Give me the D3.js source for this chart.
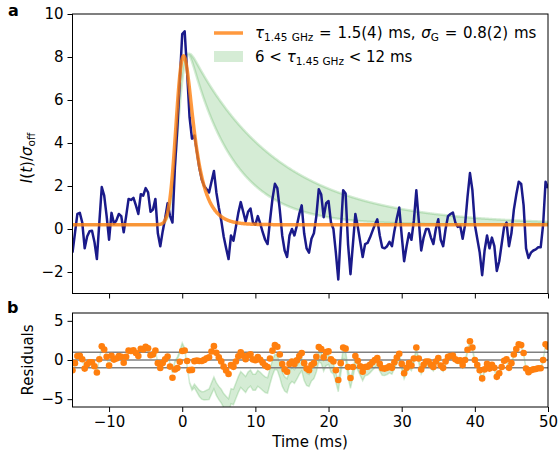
<!DOCTYPE html>
<html>
<head>
<meta charset="utf-8">
<script src="https://cdn.jsdelivr.net/npm/d3@7"></script>
<style>
  body { margin: 0; background: #fff; }
  text { font-family: "DejaVu Sans", sans-serif; }
</style>
</head>
<body>
<svg id="chart" width="560" height="454"></svg>
<script>
// sampled burst profile, one value every 1/3 ms from -15 ms
const startTime = -15;
const sampleStep = 1 / 3;
const intensity = [
  -1.1, -0.2, 0.7,   0.75, 0.3, -0.9,   -0.35, -0.1, -0.08,  -0.6, -1.4, 0.3,
  1.95, 1.55, 0.6,   -0.5, 0.75, 0.25,  0.4, 0.7, 0.6,       -0.15, 0.6, 1.4,
  1.35, 1.45, 1.1,   0.7, 1.62, 1.55,   1.9, 1.7, 0.8,       0.9, 1.4, -0.2,
  -0.8, -0.1, 0.5,   1.2, 0.6, 0.3,     2.86, 4.7, 6.9,      9.07, 9.2, 7.3,
  5.2, 4.2, 4.35,    3.6, 2.85, 2.3,    2.0, 1.85, 1.7,      2.2, 2.7, 1.7,
  1.0, 0.4, -0.35,   -0.9, -1.4, -0.3,  -0.55, 0.1, 0.75,    1.25, 0.8, 0.35,
  0.8, 0.95, 0.3,    0.2, 0.6, 0.25,    -0.15, -0.5, -0.7,   0.4, 1.4, 2.1,
  1.9, 0.9, -0.3,    -1.0, -1.3, -0.3,  0.0, -0.3, 0.15,     0.7, 1.1, -0.2,
  -0.9, -1.1, -0.45, -0.2, 0.6, 1.85,   1.6, 0.55, 1.2,      1.3, 0.3, 0.0,
  -1.1, -2.35, -0.2, 1.8, 1.65, -0.7,   -2.1, -0.7, 0.7,     0.1, -0.6, -1.3,
  -0.7, -0.65, -0.4, -0.1, 0.2, 0.45,   -0.3, -0.85, -0.9,   -0.8, -0.6, -0.8,
  -0.1, 0.5, 1.0,    -0.3, -1.5, -0.8,  -0.2, -0.5, 0.4,     1.8, 0.4, -1.0,
  -0.4, 0.0, 0.0,    -0.4, -0.7, 0.0,   0.45, -0.5, -0.8,    0.0, 0.6, 0.7,
  0.77, 0.3, 0.1,    0.15, -0.45, 0.2,  1.5, 2.6, 1.8,       0.2, -0.45, -1.1,
  -2.15, -1.0, -0.3, -0.9, -0.4, -0.8,  -1.95, -1.5, -0.7,   0.1, 0.3, -0.8,
  -0.2, 0.9, 1.6,    2.2, 2.1, 1.1,     -0.9, -1.35, -1.1,   -1.0, -0.95, -0.85,
  -0.85, 0.2, 2.2,   1.9
];

// fit parameters (from the legend)
const tauFit = 1.5;
const sigmaFit = 0.8;
const tauLow = 6;
const tauHigh = 12;
const pulseCentre = -0.6;
const fitPeak = 7.85;
const bandPeak = 7.95;
const baseline = 0.2;

const xTicks = [-10, 0, 10, 20, 30, 40, 50];
const yTicksTop = [-2, 0, 2, 4, 6, 8, 10];
const yTicksRes = [-5, 0, 5];
const residualGuides = [-1, 0, 1];

const orange = "#ff7f0e";
const green = "rgba(44,160,44,0.2)";
const navy = "#1a1a8a";

// Gaussian convolved with a one-sided exponential
function erfc(x) {
  const z = Math.abs(x);
  const t = 1 / (1 + 0.3275911 * z);
  const y = t * (0.254829592 + t * (-0.284496736 + t * (1.421413741 + t * (-1.453152027 + t * 1.061405429)))) * Math.exp(-z * z);
  return x >= 0 ? y : 2 - y;
}
function scattered(t, tau) {
  const u = t - pulseCentre;
  return Math.exp(sigmaFit * sigmaFit / (2 * tau * tau) - u / tau) *
    erfc((sigmaFit / tau - u / sigmaFit) / Math.SQRT2) / 2;
}
function makeModel(tau, height) {
  const peak = d3.max(d3.range(-3, 6, 0.01), t => scattered(t, tau));
  return t => baseline + height * scattered(t, tau) / peak;
}
const modelFit = makeModel(tauFit, fitPeak);
const modelLow = makeModel(tauLow, bandPeak);
const modelHigh = makeModel(tauHigh, bandPeak);

const samples = intensity.map((v, i) => {
  const t = startTime + i * sampleStep;
  return { t, v, res: v - modelFit(t), resLow: v - modelLow(t), resHigh: v - modelHigh(t) };
});
const fine = d3.range(-15, 50.0001, 0.05).map(t => ({ t, fit: modelFit(t), low: modelLow(t), high: modelHigh(t) }));

const svg = d3.select("#chart");
const x = d3.scaleLinear().domain([-15, 50]).range([72.5, 548]);
const yTop = d3.scaleLinear().domain([-3, 10]).range([293.5, 14]);
const yRes = d3.scaleLinear().domain([-6, 6]).range([407, 313]);

const defs = svg.append("defs");
defs.append("clipPath").attr("id", "clipTop").append("rect")
  .attr("x", 72.5).attr("y", 14).attr("width", 475.5).attr("height", 279.5);
defs.append("clipPath").attr("id", "clipRes").append("rect")
  .attr("x", 72.5).attr("y", 313).attr("width", 475.5).attr("height", 94);

// panel a
const panelA = svg.append("g").attr("clip-path", "url(#clipTop)");
panelA.append("path")
  .datum(fine)
  .attr("d", d3.area().x(d => x(d.t)).y0(d => yTop(d.low)).y1(d => yTop(d.high)))
  .attr("fill", green)
  .attr("stroke", green)
  .attr("stroke-width", 2.5);
panelA.append("path")
  .datum(samples)
  .attr("d", d3.line().x(d => x(d.t)).y(d => yTop(d.v)))
  .attr("fill", "none")
  .attr("stroke", navy)
  .attr("stroke-width", 2.5)
  .attr("stroke-linejoin", "round");
panelA.append("path")
  .datum(fine)
  .attr("d", d3.line().x(d => x(d.t)).y(d => yTop(d.fit)))
  .attr("fill", "none")
  .attr("stroke", orange)
  .attr("stroke-opacity", 0.8)
  .attr("stroke-width", 3.5);

// panel b
const panelB = svg.append("g").attr("clip-path", "url(#clipRes)");
panelB.append("path")
  .datum(samples)
  .attr("d", d3.area().x(d => x(d.t)).y0(d => yRes(d.resLow)).y1(d => yRes(d.resHigh)))
  .attr("fill", green)
  .attr("stroke", green)
  .attr("stroke-width", 1.5);
panelB.selectAll("line.guide")
  .data(residualGuides)
  .join("line")
  .attr("class", "guide")
  .attr("x1", 72.5).attr("x2", 548)
  .attr("y1", d => yRes(d)).attr("y2", d => yRes(d))
  .attr("stroke", "#808080")
  .attr("stroke-width", 1.5);
panelB.selectAll("circle")
  .data(samples)
  .join("circle")
  .attr("cx", d => x(d.t))
  .attr("cy", d => yRes(d.res))
  .attr("r", 3.3)
  .attr("fill", orange);

// axes
function styleAxis(g) {
  g.select(".domain").remove();
  g.selectAll(".tick line").attr("stroke", "#000");
  g.selectAll(".tick text").attr("font-size", 15).attr("fill", "#000")
    .attr("font-family", "DejaVu Sans, sans-serif");
}
svg.append("g").attr("transform", "translate(0,293.5)")
  .call(d3.axisBottom(x).tickValues(xTicks).tickSize(5).tickFormat(""))
  .call(styleAxis);
svg.append("g").attr("transform", "translate(0,407)")
  .call(d3.axisBottom(x).tickValues(xTicks).tickSize(5).tickPadding(4))
  .call(styleAxis);
svg.append("g").attr("transform", "translate(72.5,0)")
  .call(d3.axisLeft(yTop).tickValues(yTicksTop).tickSize(5).tickPadding(4))
  .call(styleAxis);
svg.append("g").attr("transform", "translate(72.5,0)")
  .call(d3.axisLeft(yRes).tickValues(yTicksRes).tickSize(5).tickPadding(4))
  .call(styleAxis);

// frames
svg.append("rect").attr("x", 72.5).attr("y", 14).attr("width", 475.5).attr("height", 279.5)
  .attr("fill", "none").attr("stroke", "#000").attr("stroke-width", 1);
svg.append("rect").attr("x", 72.5).attr("y", 313).attr("width", 475.5).attr("height", 94)
  .attr("fill", "none").attr("stroke", "#000").attr("stroke-width", 1);

// labels
svg.append("text").attr("x", 310).attr("y", 447).attr("text-anchor", "middle")
  .attr("font-size", 15).text("Time (ms)");
svg.append("text").attr("transform", "translate(33,360) rotate(-90)").attr("text-anchor", "middle")
  .attr("font-size", 15).text("Residuals");
const yl = svg.append("text").attr("transform", "translate(32,158) rotate(-90)")
  .attr("text-anchor", "middle").attr("font-size", 15);
yl.append("tspan").attr("font-style", "italic").text("I");
yl.append("tspan").text("(");
yl.append("tspan").attr("font-style", "italic").text("t");
yl.append("tspan").text(")/");
yl.append("tspan").attr("font-style", "italic").text("σ");
yl.append("tspan").attr("font-size", 10.5).attr("dy", 3).text("off");

svg.append("text").attr("x", 8).attr("y", 16).attr("font-size", 16).attr("font-weight", "bold").text("a");
svg.append("text").attr("x", 7).attr("y", 313).attr("font-size", 16).attr("font-weight", "bold").text("b");

// legend
const legend = svg.append("g");
legend.append("line").attr("x1", 214).attr("x2", 243).attr("y1", 33).attr("y2", 33)
  .attr("stroke", orange).attr("stroke-opacity", 0.8).attr("stroke-width", 3.5);
legend.append("rect").attr("x", 214).attr("y", 51).attr("width", 29).attr("height", 11)
  .attr("fill", green);
const l1 = legend.append("text").attr("x", 255).attr("y", 38).attr("font-size", 15)
  .attr("word-spacing", 1);
l1.append("tspan").attr("font-style", "italic").text("τ");
l1.append("tspan").attr("font-size", 10.5).attr("dy", 3).text("1.45 GHz");
l1.append("tspan").attr("dy", -3).text(" = 1.5(4) ms, ");
l1.append("tspan").attr("font-style", "italic").text("σ");
l1.append("tspan").attr("font-size", 10.5).attr("dy", 3).text("G");
l1.append("tspan").attr("dy", -3).text(" = 0.8(2) ms");
const l2 = legend.append("text").attr("x", 255).attr("y", 62).attr("font-size", 15);
l2.append("tspan").text("6 < ");
l2.append("tspan").attr("font-style", "italic").text("τ");
l2.append("tspan").attr("font-size", 10.5).attr("dy", 3).text("1.45 GHz");
l2.append("tspan").attr("dy", -3).text(" < 12 ms");
</script>
</body>
</html>
